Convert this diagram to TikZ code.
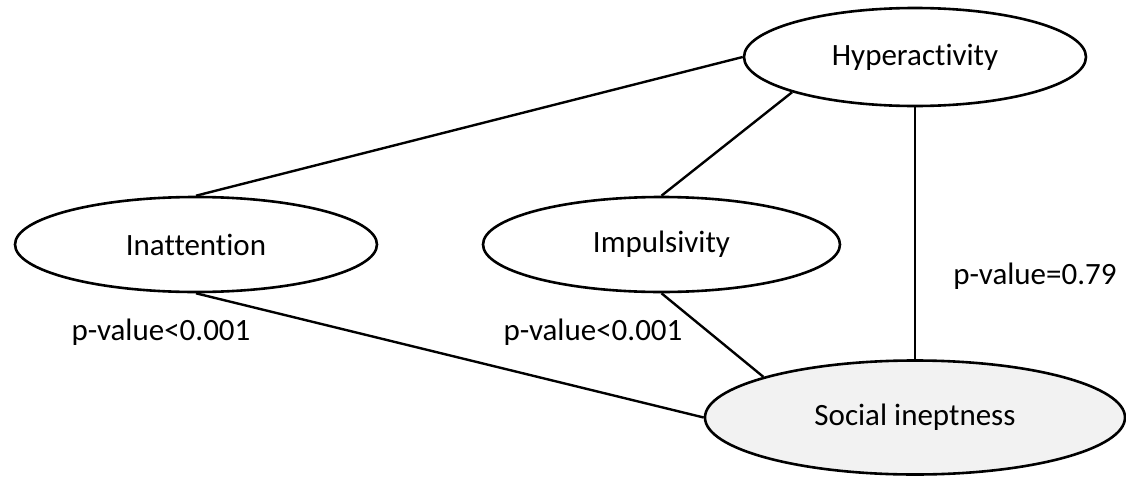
\documentclass[tikz,border=0pt]{standalone}
\usepackage{fontspec}
\setmainfont{Carlito}[Ligatures={NoCommon}]
\usepackage{xcolor}
\usepackage{tikz}
\usetikzlibrary{shapes.geometric}
\definecolor{outcomegray}{RGB}{242,242,242}

\begin{document}
\begin{tikzpicture}[x=0.5pt,y=-0.5pt,
	trait/.style={ellipse,draw,line width=1.3pt,inner sep=0pt,font=\fontsize{15.5}{18}\selectfont},
	pval/.style={font=\fontsize{15.5}{18}\selectfont}]
	\useasboundingbox (0,0) rectangle (1126,477);
	\node[trait,minimum width=171pt,minimum height=49pt] (hyper) at (915,57) {Hyperactivity};
	\node[trait,minimum width=181pt,minimum height=47.5pt] (inatt) at (196,244.5) {Inattention};
	\node[trait,minimum width=178.5pt,minimum height=47.5pt] (impuls) at (661.5,244.5) {Impulsivity};
	\node[trait,fill=outcomegray,minimum width=210pt,minimum height=57pt] (social) at (915,417.5) {Social ineptness};
	\node[pval] (p1) at (161,332) {p-value<0.001};
	\node[pval] (p2) at (593,332) {p-value<0.001};
	\node[pval] (p3) at (1035,276) {p-value=0.79};
	\draw [line width=1.2pt] (inatt.north) edge (hyper.west);
	\draw [line width=1.2pt] (impuls.north) edge (hyper.196);
	\draw [line width=1.2pt] (hyper.south) edge (social.north);
	\draw [line width=1.2pt] (inatt.south) edge (social.west);
	\draw [line width=1.2pt] (impuls.south) edge (social.165);
\end{tikzpicture}
\end{document}
